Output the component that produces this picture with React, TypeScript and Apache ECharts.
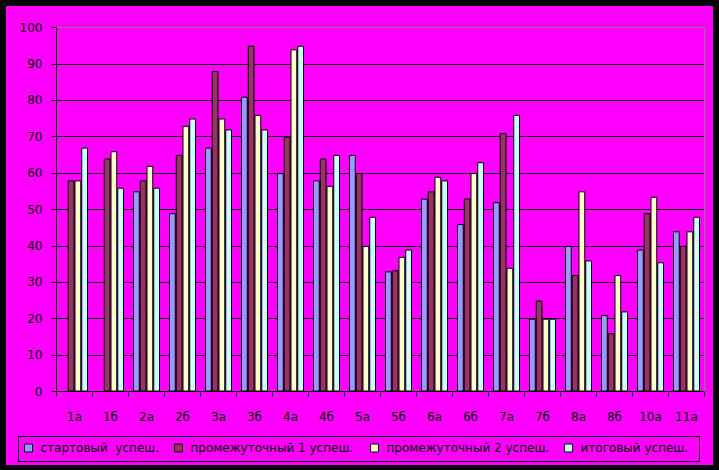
import React, { useEffect, useRef } from "react";
import * as echarts from "echarts";

const categories = ["1а", "1б", "2а", "2б", "3а", "3б", "4а", "4б", "5а", "5б", "6а", "6б", "7а", "7б", "8а", "8б", "10а", "11а"];
const seriesNames = ["стартовый  успеш.", "промежуточный 1 успеш.", "промежуточный 2 успеш.", "итоговый успеш."];
const start = [0, 0, 55, 49, 67, 81, 60, 58, 65, 33, 53, 46, 52, 20, 40, 21, 39, 44];
const inter1 = [58, 64, 58, 65, 88, 95, 70, 64, 60, 33.3, 55, 53, 71, 25, 32, 16, 49, 40];
const inter2 = [58, 66, 62, 73, 75, 76, 94, 56.5, 40, 37, 59, 60, 34, 20, 55, 32, 53.5, 44];
const final = [67, 56, 56, 75, 72, 72, 95, 65, 48, 39, 58, 63, 76, 20, 36, 22, 35.5, 48];
const yTicks = [0, 10, 20, 30, 40, 50, 60, 70, 80, 90, 100];
const colors = ["#9999FF", "#993366", "#FFFFCC", "#CCFFFF"];
const legendLeft = [24, 174, 370, 564];

export default function App() {
  const ref = useRef<HTMLDivElement>(null);
  useEffect(() => {
    document.body.style.margin = "0";
    const chart = echarts.init(ref.current!, null, { renderer: "svg" });
    const values = [start, inter1, inter2, final];
    const font = "DejaVu Sans";
    chart.setOption({
      animation: false,
      backgroundColor: "#000000",
      graphic: [
        { type: "rect", shape: { x: 6, y: 6, width: 707, height: 459 }, style: { fill: "#FF00FF" }, z: -10 },
        { type: "rect", shape: { x: 18.5, y: 436.5, width: 681, height: 25 }, style: { fill: "none", stroke: "#000", lineWidth: 1 }, z: 10 },
        { type: "line", shape: { x1: 56.5, y1: 27.5, x2: 704.5, y2: 27.5 }, style: { stroke: "#808080", lineWidth: 1 }, z: 5 },
        { type: "line", shape: { x1: 704.5, y1: 27.5, x2: 704.5, y2: 391.5 }, style: { stroke: "#808080", lineWidth: 1 }, z: 5 },
      ],
      grid: { left: 56.5, right: 14.5, top: 27.5, bottom: 78.5, containLabel: false },
      legend: seriesNames.map((n, i) => ({
        data: [n],
        left: legendLeft[i],
        top: 442,
        padding: 0,
        icon: "rect",
        itemWidth: 8,
        itemHeight: 8,
        itemStyle: { borderColor: "#000", borderWidth: 1 },
        textStyle: { fontFamily: font, fontSize: 12, color: "#000", padding: [0, 0, 0, 3] },
        selectedMode: false,
      })),
      xAxis: {
        type: "category",
        data: categories,
        axisLine: { lineStyle: { color: "#000", width: 1 } },
        axisTick: { show: true, length: 5, inside: false, lineStyle: { color: "#000" } },
        axisLabel: { color: "#000", fontFamily: font, fontSize: 12, margin: 19 },
        splitLine: { show: false },
      },
      yAxis: {
        type: "value",
        min: 0,
        max: 100,
        interval: 10,
        axisLine: { show: true, lineStyle: { color: "#000", width: 1 } },
        axisTick: { show: true, length: 5, lineStyle: { color: "#000" } },
        axisLabel: {
          color: "#000",
          fontFamily: font,
          fontSize: 12,
          margin: 14,
          formatter: (v: number) => (yTicks.includes(v) ? String(v) : ""),
        },
        splitLine: { show: true, lineStyle: { color: "#000", width: 1 } },
      },
      series: seriesNames.map((n, i) => ({
        name: n,
        type: "bar",
        data: values[i],
        barGap: "0%",
        barCategoryGap: "25%",
        itemStyle: { color: colors[i], borderColor: "#000", borderWidth: 1 },
      })),
    });
    return () => chart.dispose();
  }, []);
  return <div ref={ref} style={{ width: 719, height: 470 }} />;
}
